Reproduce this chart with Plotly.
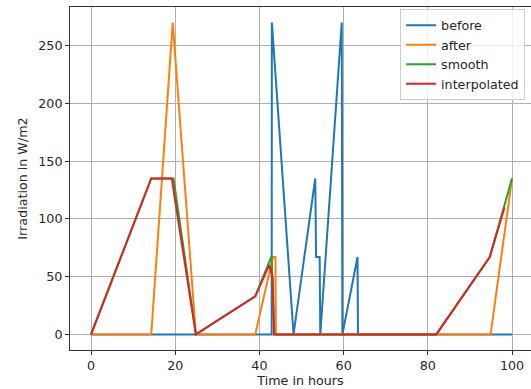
import plotly.graph_objects as go

# --- data ---
before_t = [0, 42.9, 42.95, 48.1, 53.25, 53.45, 54.3, 54.45, 59.55, 59.7, 63.3, 63.4, 100]
before_v = [0, 0, 270, 0, 135, 67, 67, 0, 270, 0, 67, 0, 0]

after_t = [0, 14.3, 19.4, 24.9, 39.0, 43.2, 43.8, 43.9, 94.9, 100]
after_v = [0, 0, 270, 0, 0, 67, 67, 0, 0, 135]

smooth_t = [0, 14.3, 19.6, 24.9, 39.0, 42.9, 43.5, 82.0, 94.7, 100]
smooth_v = [0, 135, 135, 0, 33, 68, 0, 0, 67, 135]

interp_t = [0, 14.3, 19.2, 19.8, 24.9, 39.0, 42.3, 43.1, 43.5, 82.0, 94.7, 98.2]
interp_v = [0, 135, 135, 120, 0, 33, 60, 50, 0, 0, 67, 110]

x_ticks = [0, 20, 40, 60, 80, 100]
y_ticks = [0, 50, 100, 150, 200, 250]

series = [
    ("before", before_t, before_v, "#1f77b4"),
    ("after", after_t, after_v, "#ff7f0e"),
    ("smooth", smooth_t, smooth_v, "#2ca02c"),
    ("interpolated", interp_t, interp_v, "#d62728"),
]

fig = go.Figure()
for name, t, v, c in series:
    fig.add_trace(go.Scatter(x=t, y=v, mode="lines", name=name,
                             line=dict(color=c, width=2)))

font = dict(family="DejaVu Sans", size=12.7, color="#262626")
axis_common = dict(
    showgrid=True, gridcolor="#b0b0b0", gridwidth=1,
    zeroline=False, showline=True, linecolor="#333333", linewidth=1,
    ticks="outside", ticklen=4, tickcolor="#333333", tickwidth=1,
    tickfont=font,
)

fig.update_layout(
    width=531, height=389,
    margin=dict(l=70, r=0, t=7, b=39, autoexpand=False),
    paper_bgcolor="white", plot_bgcolor="white",
    font=font,
    xaxis=dict(range=[-5, 104.5], tickvals=x_ticks, mirror=True,
               title=dict(text="Time in hours", font=font, standoff=3),
               **axis_common),
    yaxis=dict(range=[-13.5, 283.5], tickvals=y_ticks,
               title=dict(text="Irradiation in W/m2", font=font, standoff=7),
               **axis_common),
    legend=dict(x=0.716, y=0.993, xanchor="left", yanchor="top",
                bgcolor="rgba(255,255,255,0.8)", bordercolor="#cccccc",
                borderwidth=1, font=font, tracegroupgap=0),
    showlegend=True,
)

fig.write_html("out.html",
               config={"displayModeBar": False},
               post_script="document.body.style.margin='0';document.body.style.overflow='hidden';")
